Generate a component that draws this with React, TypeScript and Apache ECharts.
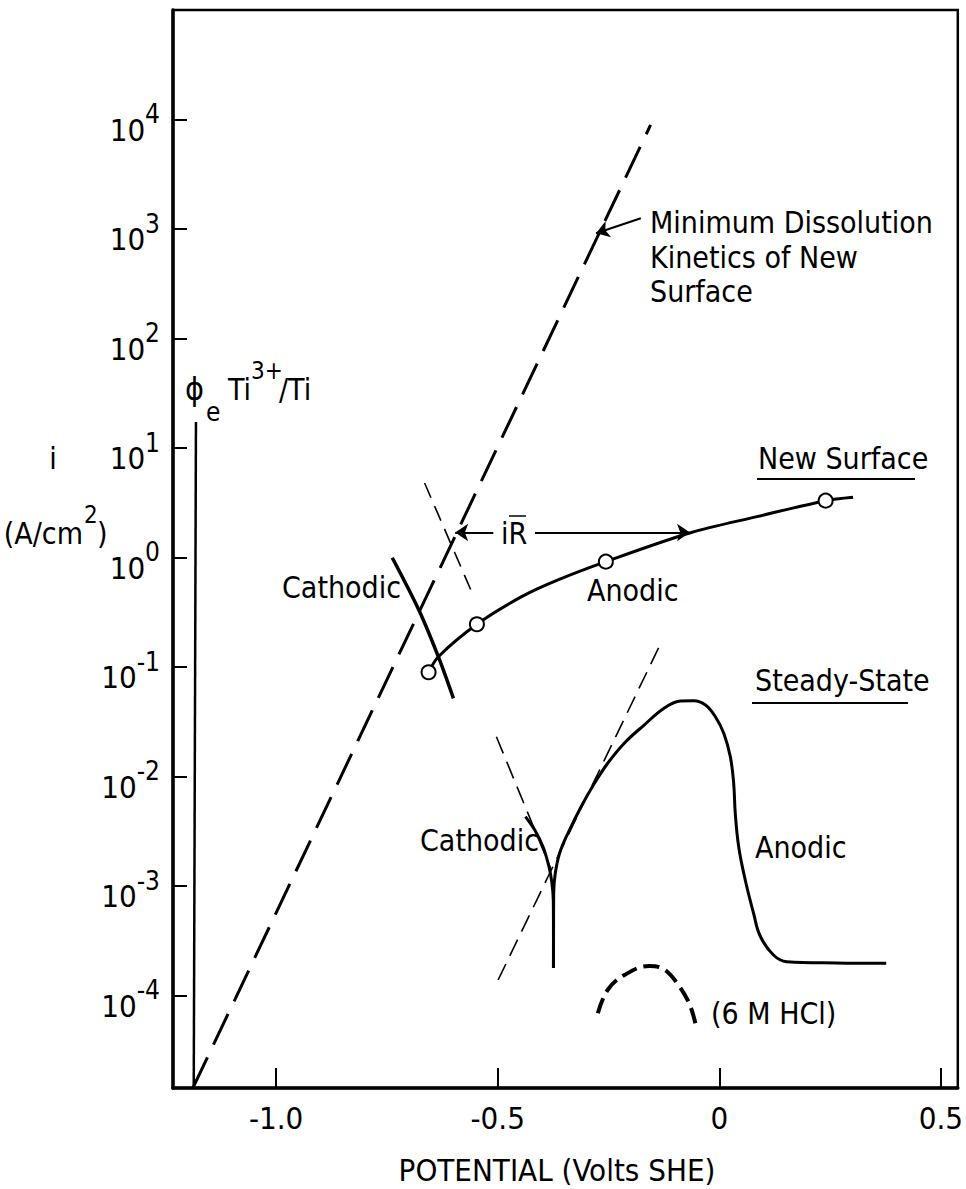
import React, { useEffect, useRef } from "react";
import * as echarts from "echarts";

const FONT = "'Liberation Sans Narrow', 'DejaVu Sans Condensed', 'Liberation Sans', sans-serif";

// X axis (potential, V SHE)
const xTicks = [-1.0, -0.5, 0, 0.5];
// Y axis: log10 of current density (A/cm2)
const yExponents = [-4, -3, -2, -1, 0, 1, 2, 3, 4];

// All series are [potential (V), log10 i]
const minDissolution = [[-1.188, -4.845], [-0.155, 3.95]];
const phiE = [[-1.186, -4.845], [-1.181, 1.237]];

const newSurfaceAnodic = [
  [-0.656, -1.048], [-0.634, -0.906], [-0.547, -0.61], [-0.446, -0.358],
  [-0.364, -0.205], [-0.256, -0.038], [-0.065, 0.226], [0.085, 0.373],
  [0.24, 0.519], [0.302, 0.55],
];
const newSurfacePoints = [[-0.656, -1.048], [-0.547, -0.61], [-0.256, -0.038], [0.24, 0.519]];
const newSurfaceCathodic = [[-0.738, -0.002], [-0.678, -0.479], [-0.634, -0.906], [-0.6, -1.286]];
const newSurfaceTangent = [[-0.665, 0.68], [-0.559, -0.312]];

const ssCathodic = [
  [-0.4375, -2.367], [-0.4164, -2.489], [-0.3978, -2.641], [-0.3843, -2.824],
  [-0.3776, -2.975], [-0.3746, -3.128], [-0.3742, -3.402], [-0.3742, -3.749],
];
const ssAnodic = [
  [-0.3742, -3.749], [-0.374, -3.402], [-0.3737, -3.067], [-0.3701, -2.884],
  [-0.3603, -2.701], [-0.3416, -2.519], [-0.3118, -2.276], [-0.2817, -2.062],
  [-0.2518, -1.879], [-0.2144, -1.696], [-0.1695, -1.53], [-0.1246, -1.377],
  [-0.0873, -1.311], [-0.0572, -1.308], [-0.0312, -1.347], [-0.0088, -1.454],
  [0.0101, -1.605], [0.0249, -1.819], [0.0325, -2.062], [0.0361, -2.336],
  [0.0438, -2.641], [0.0586, -2.945], [0.0774, -3.249], [0.0923, -3.457],
  [0.1223, -3.63], [0.1522, -3.691], [0.2644, -3.703], [0.3767, -3.706],
];
const ssCathodicTafel = [[-0.503, -1.637], [-0.379, -2.854]];
const ssAnodicTafel = [[-0.137, -0.826], [-0.499, -3.858]];
const hcl = [
  [-0.274, -4.163], [-0.252, -3.95], [-0.214, -3.813], [-0.158, -3.731],
  [-0.125, -3.761], [-0.095, -3.889], [-0.068, -4.071], [-0.054, -4.254],
];
const irArrowLeft = [[-0.51, 0.228], [-0.596, 0.228]];
const irArrowRight = [[-0.416, 0.228], [-0.066, 0.228]];
const dissolutionArrow = [[-0.177, 3.098], [-0.278, 2.961]];

const txt = (text: string, x: number, y: number, size = 30, align = "left") => ({
  type: "text",
  x,
  y,
  silent: true,
  style: {
    text,
    fontSize: size,
    fontFamily: FONT,
    fill: "#000",
    align,
    verticalAlign: "middle",
  },
});

const hline = (x1: number, x2: number, y: number, w = 2) => ({
  type: "line",
  silent: true,
  shape: { x1, y1: y, x2, y2: y },
  style: { stroke: "#000", lineWidth: w },
});

export default function App() {
  const ref = useRef<HTMLDivElement>(null);
  useEffect(() => {
    if (!ref.current) return;
    const chart = echarts.init(ref.current, null, { renderer: "svg" });
    const solid = (data: number[][], width = 3, smooth: number | boolean = 0.3) => ({
      type: "line",
      data,
      symbol: "none",
      showSymbol: false,
      smooth,
      silent: true,
      lineStyle: { color: "#000", width, type: "solid" },
    });
    const dashed = (data: number[][], width: number, dash: number[], smooth: number | boolean = false) => ({
      type: "line",
      data,
      symbol: "none",
      showSymbol: false,
      smooth,
      silent: true,
      lineStyle: { color: "#000", width, type: dash },
    });
    chart.setOption({
      animation: false,
      backgroundColor: "#fff",
      grid: {
        left: 173,
        right: 4,
        top: 10,
        bottom: 101,
        show: true,
        borderColor: "#000",
        borderWidth: 2.5,
        containLabel: false,
      },
      xAxis: {
        type: "value",
        min: -1.2328,
        max: 0.5383,
        axisLine: { show: true, onZero: false, lineStyle: { color: "#000", width: 3.5 } },
        axisTick: { show: true, inside: true, length: 20, customValues: xTicks, lineStyle: { color: "#000", width: 2 } },
        axisLabel: {
          customValues: xTicks,
          formatter: (v: number) => (Math.abs(v) < 1e-9 ? "0" : v.toFixed(1)),
          fontSize: 31,
          fontFamily: FONT,
          color: "#000",
          margin: 14,
        },
        splitLine: { show: false },
      },
      yAxis: {
        type: "value",
        min: -4.845,
        max: 5.0,
        axisLine: { show: true, onZero: false, lineStyle: { color: "#000", width: 3.5 } },
        axisTick: { show: true, inside: true, length: 14, customValues: yExponents, lineStyle: { color: "#000", width: 2 } },
        axisLabel: {
          customValues: yExponents,
          formatter: (v: number) => `{b|10}{s|${Math.round(v)}}`,
          margin: 13,
          padding: [8, 0, 0, 0],
          rich: {
            b: { fontSize: 31, fontFamily: FONT, color: "#000", lineHeight: 44, verticalAlign: "bottom" },
            s: { fontSize: 26, fontFamily: FONT, color: "#000", lineHeight: 22, verticalAlign: "top" },
          },
        },
        splitLine: { show: false },
      },
      series: [
        dashed(minDissolution, 3, [34, 14]),
        solid(phiE, 2.5, false),
        solid(newSurfaceAnodic, 3, 0.3),
        solid(newSurfaceCathodic, 3.5, 0.3),
        dashed(newSurfaceTangent, 1.6, [16, 9]),
        solid(ssCathodic, 3, 0.3),
        solid(ssAnodic, 3, 0.4),
        dashed(ssCathodicTafel, 1.6, [18, 9]),
        dashed(ssAnodicTafel, 1.6, [18, 9]),
        dashed(hcl, 4, [16, 7], 0.4),
        {
          type: "scatter",
          data: newSurfacePoints,
          symbol: "circle",
          symbolSize: 14,
          silent: true,
          z: 5,
          itemStyle: { color: "#fff", borderColor: "#000", borderWidth: 2, opacity: 1 },
        },
        {
          type: "lines",
          coordinateSystem: "cartesian2d",
          silent: true,
          symbol: ["none", "arrow"],
          symbolSize: 13,
          lineStyle: { color: "#000", width: 2, curveness: 0, opacity: 1 },
          data: [
            { coords: irArrowLeft },
            { coords: irArrowRight },
            { coords: dissolutionArrow },
          ],
        },
      ],
      graphic: [
        txt("Minimum Dissolution", 650, 222),
        txt("Kinetics of New", 650, 257),
        txt("Surface", 650, 291),
        txt("New Surface", 758, 458),
        hline(757, 915, 479),
        txt("Steady-State", 755, 680),
        hline(752, 908, 703),
        txt("Cathodic", 282, 587),
        txt("Anodic", 587, 590),
        txt("Cathodic", 420, 840),
        txt("Anodic", 755, 847),
        txt("(6 M HCl)", 711, 1013),
        txt("iR", 501, 533),
        hline(509, 526, 516, 1.5),
        txt("\u03d5", 185, 389, 32),
        txt("e", 206, 412, 26),
        txt("Ti", 228, 389),
        txt("3+", 251, 371, 24),
        txt("/Ti", 279, 389),
        txt("i", 53, 458, 30, "center"),
        txt("(A/cm", 83, 533, 30, "right"),
        txt("2", 84, 515, 24),
        txt(")", 97, 533),
        txt("POTENTIAL (Volts SHE)", 557, 1170, 31, "center"),
      ],
    });
    return () => chart.dispose();
  }, []);
  return (
    <div
      ref={ref}
      style={{ position: "absolute", left: 0, top: 0, width: 966, height: 1189 }}
    />
  );
}
